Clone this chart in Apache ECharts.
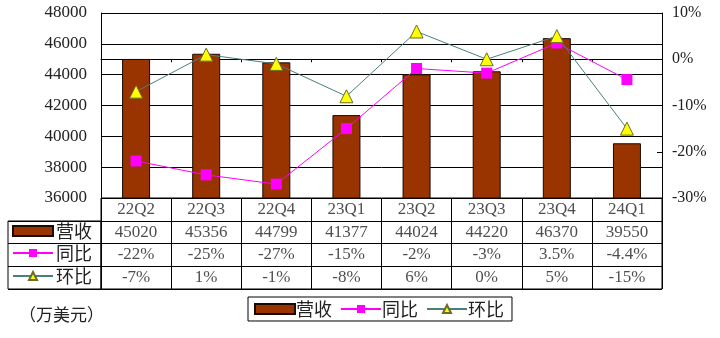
<!DOCTYPE html>
<html>
<head>
<meta charset="utf-8">
<script src="https://cdn.jsdelivr.net/npm/echarts@6/dist/echarts.min.js"></script>
<style>
html,body{margin:0;padding:0;background:#fff;}
#main{width:720px;height:338px;}
</style>
</head>
<body>
<div id="main"></div>
<script>
const categories = ['22Q2','22Q3','22Q4','23Q1','23Q2','23Q3','23Q4','24Q1'];
const revenue = [45020,45356,44799,41377,44024,44220,46370,39550];
const yoy = [-22,-25,-27,-15,-2,-3,3.5,-4.4];
const qoq = [-7,1,-1,-8,6,0,5,-15];
const yoyLabels = ['-22%','-25%','-27%','-15%','-2%','-3%','3.5%','-4.4%'];
const qoqLabels = ['-7%','1%','-1%','-8%','6%','0%','5%','-15%'];
const leftTicks = {min:36000, max:48000, interval:2000};
const rightTicks = {min:-30, max:10, interval:10};
const rowNames = ['营收','同比','环比'];
const unitText = '（万美元）';

const SERIF = '"Liberation Serif","Noto Sans CJK SC",serif';
const CJK = '"Noto Sans CJK SC","Liberation Serif",sans-serif';
const BAR = '#993300';
const MAG = '#FF00FF';
const TEAL = '#4a7f7f';

const tableRows = [categories, revenue.map(String), yoyLabels, qoqLabels];

function legendItem(name){
  return name === rowNames[0] ? {name:name, icon:'rect'} : {name:name};
}

function rowLegend(name, top){
  return {
    data:[legendItem(name)], left:12, top:top, orient:'horizontal',
    itemWidth:40, itemHeight:10, itemGap:0, padding:0,
    selectedMode:false,
    textStyle:{fontFamily:CJK, fontSize:18, color:'#222', padding:[0,0,0,-2]}
  };
}

const chart = echarts.init(document.getElementById('main'), null, {renderer:'canvas'});
const option = {
  animation:false,
  backgroundColor:'#fff',
  title:{text:unitText, left:14, top:301, textStyle:{fontFamily:CJK, fontSize:17, fontWeight:'normal', color:'#222'}},
  legend:[
    {
      data:rowNames.map(legendItem), left:248, top:297,
      borderColor:'#000', borderWidth:1, padding:[3,8,3,6],
      itemWidth:40, itemHeight:10, itemGap:8,
      selectedMode:false,
      textStyle:{fontFamily:CJK, fontSize:18, color:'#222', padding:[0,0,0,-4]}
    },
    rowLegend('营收', 222),
    rowLegend('同比', 244),
    rowLegend('环比', 267)
  ],
  grid:[
    {left:101, right:58, top:13, height:185},
    {left:101, right:58, top:198, height:91, show:true, borderColor:'#000', borderWidth:1, backgroundColor:'transparent'},
    {left:8, width:93, top:221, height:68, show:true, borderColor:'#000', borderWidth:1, backgroundColor:'transparent'}
  ],
  xAxis:[
    {
      type:'category', gridIndex:0, data:categories, boundaryGap:true,
      axisLine:{show:true, lineStyle:{color:'#000', width:1}},
      axisTick:{show:true, length:3, interval:0, lineStyle:{color:'#000', width:1}},
      axisLabel:{show:false},
      splitLine:{show:false}
    },
    {
      type:'category', gridIndex:1, data:categories, boundaryGap:true,
      axisLine:{show:false}, axisTick:{show:false}, axisLabel:{show:false},
      splitLine:{show:true, interval:0, lineStyle:{color:'#000', width:1}}
    },
    {
      type:'value', gridIndex:2, min:0, max:1,
      axisLine:{show:false}, axisTick:{show:false}, axisLabel:{show:false}, splitLine:{show:false}
    }
  ],
  yAxis:[
    {
      type:'value', gridIndex:0, min:leftTicks.min, max:leftTicks.max, interval:leftTicks.interval,
      axisLine:{show:true, lineStyle:{color:'#000', width:1}},
      axisTick:{show:false},
      axisLabel:{margin:14, fontFamily:SERIF, fontSize:17, color:'#222', formatter:function(v){ return String(v); }},
      splitLine:{show:true, lineStyle:{color:'#000', width:1}}
    },
    {
      type:'value', gridIndex:0, position:'right', min:rightTicks.min, max:rightTicks.max, interval:rightTicks.interval,
      axisLine:{show:true, lineStyle:{color:'#000', width:1}},
      axisTick:{show:true, inside:true, length:5, lineStyle:{color:'#000'}},
      axisLabel:{margin:10, fontFamily:SERIF, fontSize:16, color:'#222', formatter:'{value}%'},
      splitLine:{show:false}
    },
    {
      type:'value', gridIndex:1, min:0, max:4, interval:1, inverse:true,
      axisLine:{show:false}, axisTick:{show:false}, axisLabel:{show:false},
      splitLine:{show:true, lineStyle:{color:'#000', width:1}}
    },
    {
      type:'value', gridIndex:2, min:0, max:3, interval:1, inverse:true,
      axisLine:{show:false}, axisTick:{show:false}, axisLabel:{show:false},
      splitLine:{show:true, lineStyle:{color:'#000', width:1}}
    }
  ],
  series:[
    {
      name:'营收', type:'bar', xAxisIndex:0, yAxisIndex:0, data:revenue, barWidth:28,
      itemStyle:{color:BAR, borderColor:'#1a0a00', borderWidth:1}
    },
    {
      name:'同比', type:'line', xAxisIndex:0, yAxisIndex:1, data:yoy,
      symbol:'rect', symbolSize:11, showAllSymbol:true,
      lineStyle:{color:MAG, width:1},
      itemStyle:{color:MAG, borderColor:MAG, borderWidth:0}
    },
    {
      name:'环比', type:'line', xAxisIndex:0, yAxisIndex:1, data:qoq,
      symbol:'triangle', symbolSize:13, showAllSymbol:true,
      lineStyle:{color:TEAL, width:1},
      itemStyle:{color:'#FFFF00', borderColor:'#6b6b2a', borderWidth:1}
    }
  ].concat(tableRows.map(function(arr, r){
    return {
      name:'tbl'+r, type:'scatter', xAxisIndex:1, yAxisIndex:2,
      data:categories.map(function(c, i){ return [i, r + 0.5]; }),
      symbolSize:0, silent:true,
      label:{show:true, position:'inside', fontFamily:SERIF, fontSize:17, color:'#222',
        formatter:function(p){ return String(arr[p.dataIndex]); }}
    };
  }))
};
chart.setOption(option);
</script>
</body>
</html>
